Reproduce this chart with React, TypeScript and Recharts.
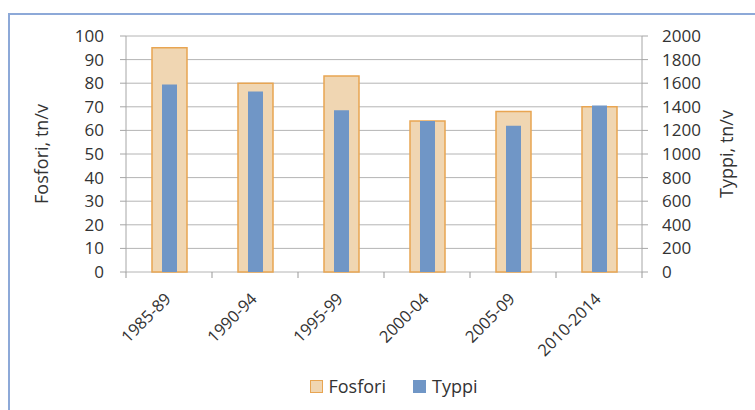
import React from 'react';
import { BarChart, Bar, XAxis, YAxis, CartesianGrid, Legend } from 'recharts';

const periods = ['1985-89', '1990-94', '1995-99', '2000-04', '2005-09', '2010-2014'];
const fosfori = [95, 80, 83, 64, 68, 70];
const typpi = [1590, 1530, 1370, 1280, 1240, 1410];
const leftTicks = [0, 10, 20, 30, 40, 50, 60, 70, 80, 90, 100];
const rightTicks = [0, 200, 400, 600, 800, 1000, 1200, 1400, 1600, 1800, 2000];

const data = periods.map((period, i) => ({ period, fosfori: fosfori[i], typpi: typpi[i] }));

const font = '"Open Sans", sans-serif';
const textColor = '#333333';
const axisColor = '#A6A6A6';

const chartWidth = 755;
const chartHeight = 410;
const leftAxisWidth = 126;
const rightAxisWidth = 113;
const bandHalf = (chartWidth - leftAxisWidth - rightAxisWidth) / periods.length / 2;

// category label plus tick marks on the category boundaries (half a band either side)
const XTick = (props: any) => {
  const { x, y, payload, index } = props;
  const ax = x + 3;
  const ay = y + 28;
  return (
    <g>
      <line x1={x - bandHalf} x2={x - bandHalf} y1={y} y2={y + 6} stroke="#999999" strokeWidth={1} />
      {index === periods.length - 1 && (
        <line x1={x + bandHalf} x2={x + bandHalf} y1={y} y2={y + 6} stroke="#999999" strokeWidth={1} />
      )}
      <text
        x={ax}
        y={ay}
        transform={`rotate(-45, ${ax}, ${ay})`}
        textAnchor="end"
        fontFamily={font}
        fontSize={16.5}
        fill={textColor}
      >
        {payload.value}
      </text>
    </g>
  );
};

const renderLegend = (props: any) => {
  const { payload } = props;
  return (
    <div style={{ display: 'flex', justifyContent: 'center', gap: 27, fontFamily: font, fontSize: 18, color: textColor }}>
      {payload.map((entry: any) => {
        const stroke = entry.payload && entry.payload.stroke ? entry.payload.stroke : entry.color;
        return (
          <span key={entry.value} style={{ display: 'flex', alignItems: 'center' }}>
            <span
              style={{
                display: 'inline-block',
                width: 11,
                height: 11,
                background: entry.color,
                border: `1.5px solid ${stroke}`,
                marginRight: 6,
              }}
            />
            {entry.value}
          </span>
        );
      })}
    </div>
  );
};

export default function App() {
  return (
    <div style={{ position: 'fixed', left: 0, top: 0, width: chartWidth, height: chartHeight, overflow: 'hidden', background: '#fff' }}>
      <div
        style={{
          position: 'absolute',
          left: 8,
          top: 13,
          width: 800,
          height: 450,
          borderLeft: '2px solid #8DA9D8',
          borderTop: '2px solid #8DA9D8',
        }}
      />
      <div style={{ position: 'absolute', left: 0, top: 0 }}>
        <BarChart width={chartWidth} height={chartHeight} data={data} margin={{ top: 36, right: 0, bottom: 137, left: 0 }}>
          <CartesianGrid xAxisId="f" yAxisId="left" vertical={false} stroke="#B4B4B4" />
          <XAxis
            xAxisId="f"
            dataKey="period"
            interval={0}
            axisLine={false}
            tickLine={false}
            tickSize={0}
            tickMargin={0}
            height={1}
            tick={<XTick />}
          />
          <XAxis xAxisId="t" dataKey="period" hide />
          <YAxis
            yAxisId="left"
            domain={[0, 100]}
            ticks={leftTicks}
            interval={0}
            width={leftAxisWidth}
            tickSize={6}
            tickMargin={16}
            stroke={axisColor}
            tick={{ fill: textColor, fontSize: 17, fontFamily: font }}
            label={{
              value: 'Fosfori, tn/v',
              angle: -90,
              position: 'insideLeft',
              offset: 42,
              textAnchor: 'middle',
              fill: textColor,
              fontSize: 18,
              fontFamily: font,
            }}
          />
          <YAxis
            yAxisId="right"
            orientation="right"
            domain={[0, 2000]}
            ticks={rightTicks}
            interval={0}
            width={rightAxisWidth}
            tickSize={6}
            tickMargin={14}
            stroke={axisColor}
            tick={{ fill: textColor, fontSize: 17, fontFamily: font }}
            label={{
              value: 'Typpi, tn/v',
              angle: -90,
              position: 'insideRight',
              offset: 28,
              textAnchor: 'middle',
              fill: textColor,
              fontSize: 18,
              fontFamily: font,
            }}
          />
          <Legend
            layout="horizontal"
            verticalAlign="middle"
            align="center"
            content={renderLegend}
            wrapperStyle={{ top: 374, left: 16, width: chartWidth }}
          />
          <Bar
            xAxisId="f"
            yAxisId="left"
            dataKey="fosfori"
            name="Fosfori"
            fill="#F0D6B2"
            stroke="#E8A552"
            strokeWidth={1.5}
            barSize={35}
            isAnimationActive={false}
          />
          <Bar
            xAxisId="t"
            yAxisId="right"
            dataKey="typpi"
            name="Typpi"
            fill="#7096C6"
            barSize={15}
            isAnimationActive={false}
          />
        </BarChart>
      </div>
    </div>
  );
}
